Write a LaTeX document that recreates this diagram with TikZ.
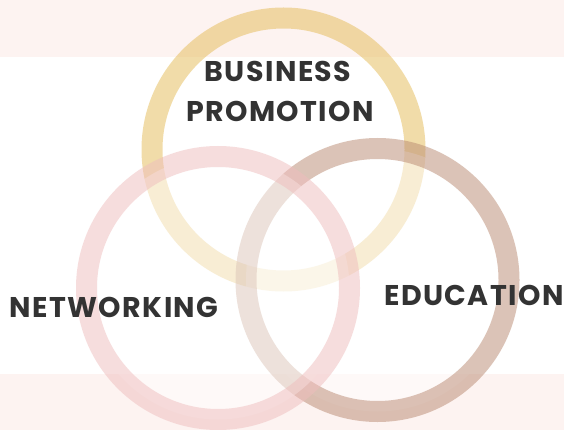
\documentclass[tikz,border=0pt]{standalone}
\usepackage{fontspec}
\newfontfamily\labelfont{Poppins}[LetterSpace=5]
\definecolor{band}{HTML}{FDF3F1}
\definecolor{ringY}{HTML}{E5BB55}
\definecolor{ringB}{HTML}{B98971}
\definecolor{ringP}{HTML}{EFBDBD}
\definecolor{txt}{HTML}{333333}
\tikzset{
  ring/.style={line width=21pt, draw opacity=0.5},
  veil/.style={fill=white, fill opacity=0.5},
  lbl/.style={font=\labelfont\bfseries\fontsize{28.5}{40}\selectfont, text=txt, inner sep=0pt, anchor=base}
}
\begin{document}
\begin{tikzpicture}[x=1pt,y=-1pt]
\useasboundingbox (0,0) rectangle (564,430);
\fill[white] (0,0) rectangle (564,430);
\fill[band] (0,0) rectangle (564,57);
\fill[band] (0,374) rectangle (564,430);
\coordinate (cy) at (283.5,149.5);
\coordinate (cb) at (377.5,280);
\coordinate (cp) at (218,288);
\draw[ring, draw=ringY] (cy) circle[radius=131.5];
\path[veil] (cb) circle[radius=131.5];
\draw[ring, draw=ringB] (cb) circle[radius=131.5];
\path[veil] (cp) circle[radius=131.5];
\draw[ring, draw=ringP] (cp) circle[radius=131.5];
\node[lbl] (bus) at (278,82) {BUSINESS};
\node[lbl] (pro) at (280,122) {PROMOTION};
\node[lbl] (net) at (114,317) {NETWORKING};
\node[lbl] (edu) at (474,305) {EDUCATION};
\end{tikzpicture}
\end{document}
